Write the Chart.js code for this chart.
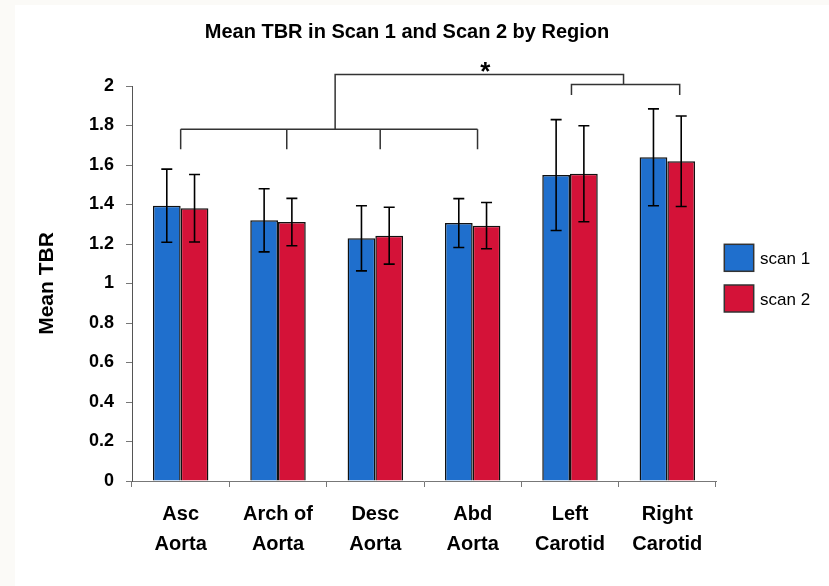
<!DOCTYPE html>
<html>
<head>
<meta charset="utf-8">
<script src="https://cdn.jsdelivr.net/npm/chart.js@4"></script>
<style>
  html, body { margin: 0; padding: 0; background: #fbfaf7; }
  #wrap { position: absolute; left: 15px; top: 5px; width: 814px; height: 581px; background: #fff; }
</style>
</head>
<body>
<div id="wrap"><canvas id="tbrChart"></canvas></div>
<script>
const categories = [['Asc', 'Aorta'], ['Arch of', 'Aorta'], ['Desc', 'Aorta'], ['Abd', 'Aorta'], ['Left', 'Carotid'], ['Right', 'Carotid']];
const scan1 = [1.394, 1.320, 1.229, 1.306, 1.549, 1.639];
const scan1Err = [0.185, 0.160, 0.165, 0.124, 0.281, 0.245];
const scan2 = [1.381, 1.311, 1.242, 1.293, 1.556, 1.619];
const scan2Err = [0.171, 0.120, 0.144, 0.117, 0.243, 0.229];
const yTicks = [0, 0.2, 0.4, 0.6, 0.8, 1, 1.2, 1.4, 1.6, 1.8, 2];

const FONT = "'Liberation Sans', Arial, sans-serif";

// error bars, significance brackets, title and legend
const extras = {
    id: 'extras',
    afterDatasetsDraw(chart) {
        const ctx = chart.ctx;
        const x = chart.scales.x;
        const y = chart.scales.y;
        ctx.save();

        ctx.strokeStyle = '#000';
        ctx.lineWidth = 1.6;
        chart.data.datasets.forEach((ds, di) => {
            chart.getDatasetMeta(di).data.forEach((bar, i) => {
                const hi = y.getPixelForValue(ds.data[i] + ds.errors[i]);
                const lo = y.getPixelForValue(ds.data[i] - ds.errors[i]);
                ctx.beginPath();
                ctx.moveTo(bar.x, hi); ctx.lineTo(bar.x, lo);
                ctx.moveTo(bar.x - 5.5, hi); ctx.lineTo(bar.x + 5.5, hi);
                ctx.moveTo(bar.x - 5.5, lo); ctx.lineTo(bar.x + 5.5, lo);
                ctx.stroke();
            });
        });

        const c0 = x.getPixelForValue(0);
        const step = x.getPixelForValue(1) - c0;
        const px = c => c0 + c * step;

        ctx.strokeStyle = '#333';
        ctx.lineWidth = 1.5;
        ctx.beginPath();
        // aorta bracket
        ctx.moveTo(px(0), y.getPixelForValue(1.781)); ctx.lineTo(px(3.05), y.getPixelForValue(1.781));
        [0, 1.09, 2.05, 3.05].forEach(c => {
            ctx.moveTo(px(c), y.getPixelForValue(1.781)); ctx.lineTo(px(c), y.getPixelForValue(1.68));
        });
        // carotid bracket
        ctx.moveTo(px(4.015), y.getPixelForValue(1.954));
        ctx.lineTo(px(4.015), y.getPixelForValue(2.007));
        ctx.lineTo(px(5.127), y.getPixelForValue(2.007));
        ctx.lineTo(px(5.127), y.getPixelForValue(1.954));
        // joining bracket
        ctx.moveTo(px(1.587), y.getPixelForValue(1.781));
        ctx.lineTo(px(1.587), y.getPixelForValue(2.058));
        ctx.lineTo(px(4.55), y.getPixelForValue(2.058));
        ctx.lineTo(px(4.55), y.getPixelForValue(2.007));
        ctx.stroke();

        ctx.fillStyle = '#000';
        ctx.font = 'bold 26px ' + FONT;
        ctx.textAlign = 'center';
        ctx.textBaseline = 'middle';
        ctx.fillText('*', px(3.13), y.getPixelForValue(2.095) + 6);

        ctx.font = 'bold 20px ' + FONT;
        ctx.textBaseline = 'alphabetic';
        ctx.fillText('Mean TBR in Scan 1 and Scan 2 by Region', 392, 33);

        ctx.textAlign = 'left';
        ctx.font = '17px ' + FONT;
        chart.data.datasets.forEach((ds, di) => {
            const top = 239.3 + di * 40.7;
            ctx.fillStyle = ds.backgroundColor;
            ctx.fillRect(709.3, top, 29.4, 27);
            ctx.strokeStyle = '#333';
            ctx.lineWidth = 1.5;
            ctx.strokeRect(709.3, top, 29.4, 27);
            ctx.fillStyle = '#000';
            ctx.fillText(ds.label, 745, top + 20);
        });
        ctx.restore();
    }
};

const ctx = document.getElementById('tbrChart').getContext('2d');
new Chart(ctx, {
    type: 'bar',
    data: {
        labels: categories,
        datasets: [{
            label: 'scan 1',
            data: scan1,
            errors: scan1Err,
            backgroundColor: '#1f6fcd',
            borderColor: '#111',
            borderWidth: 1.5
        }, {
            label: 'scan 2',
            data: scan2,
            errors: scan2Err,
            backgroundColor: '#d41238',
            borderColor: '#111',
            borderWidth: 1.5
        }]
    },
    options: {
        responsive: true,
        maintainAspectRatio: false,
        animation: false,
        layout: { padding: { left: 20, top: 81, right: 113, bottom: 0 } },
        datasets: { bar: { categoryPercentage: 0.57, barPercentage: 1.0 } },
        scales: {
            x: {
                grid: { drawOnChartArea: false, drawTicks: true, tickLength: 6, color: '#777', offset: true },
                border: { color: '#777', width: 1 },
                ticks: {
                    color: '#000',
                    padding: 12,
                    maxRotation: 0,
                    font: { family: FONT, size: 20, weight: 'bold', lineHeight: 1.5 }
                },
                afterFit: s => { s.height = 105; }
            },
            y: {
                min: 0,
                max: 2,
                grid: { drawOnChartArea: false, drawTicks: true, tickLength: 6, color: '#777' },
                border: { color: '#555', width: 1 },
                afterBuildTicks: s => { s.ticks = yTicks.map(v => ({ value: v })); },
                ticks: {
                    color: '#000',
                    padding: 12,
                    font: { family: FONT, size: 18, weight: 'bold' },
                    callback: v => String(v)
                },
                title: {
                    display: true,
                    text: 'Mean TBR',
                    color: '#000',
                    padding: 0,
                    font: { family: FONT, size: 21, weight: 'bold' }
                },
                afterFit: s => { s.width = 97; }
            }
        },
        plugins: {
            legend: { display: false },
            title: { display: false },
            tooltip: { enabled: false }
        }
    },
    plugins: [extras]
});
</script>
</body>
</html>
